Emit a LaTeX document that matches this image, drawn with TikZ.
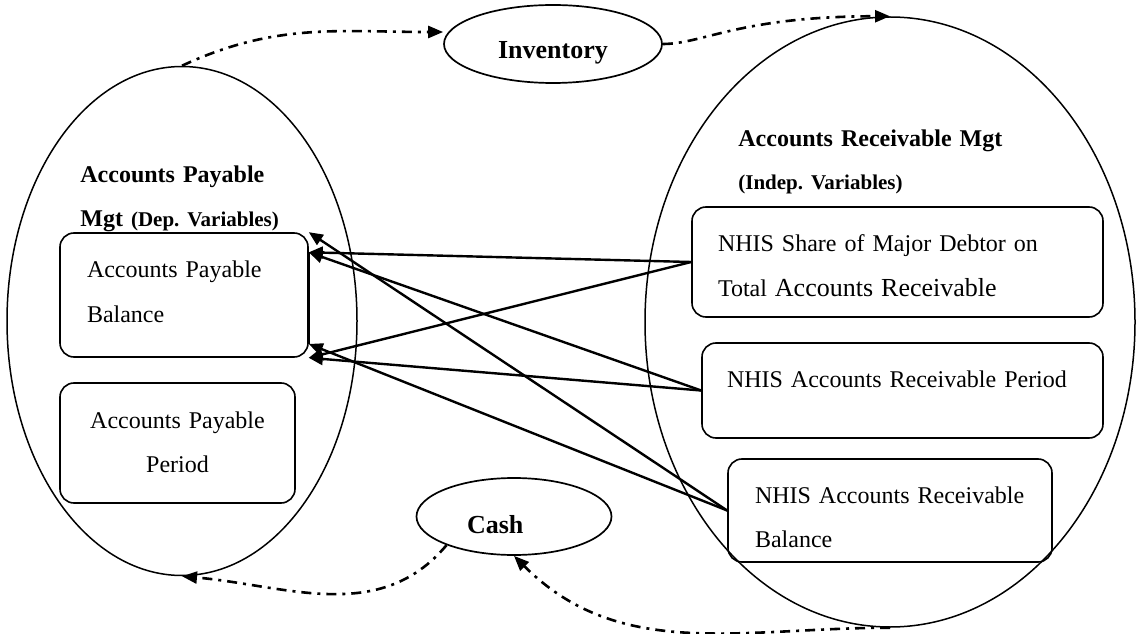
\documentclass[tikz,border=0pt]{standalone}
\usepackage{fontspec}
\setmainfont{Liberation Serif}
\usetikzlibrary{shapes.geometric, arrows.meta, calc}
\frenchspacing

\begin{document}
\begin{tikzpicture}[x=0.5pt, y=0.5pt,
    group/.style={ellipse, draw, line width=0.75pt, inner sep=0pt},
    item/.style={ellipse, draw, line width=0.85pt, inner sep=1pt, font=\fontsize{13}{15}\selectfont\bfseries},
    varbox/.style={draw, rounded corners=7pt, line width=0.8pt, inner ysep=0pt, align=left, font=\fontsize{12}{22.5}\selectfont},
    grouptitle/.style={inner sep=0pt, align=left, font=\fontsize{12}{22}\selectfont\bfseries},
    link/.style={-{Triangle[length=7pt,width=6pt]}, line width=1.2pt},
    flow/.style={-{Triangle[length=7.5pt,width=6pt]}, line width=1.3pt, dash pattern=on 5pt off 3pt on 1.5pt off 3pt},
]
\useasboundingbox (0,0) rectangle (1141,633);

% Two management groups
\node[group, minimum width=175pt, minimum height=254.5pt] (apm) at (182,312) {};
\node[group, minimum width=245pt, minimum height=305pt] (arm) at (890,311) {};

% Inventory and cash
\node[item, minimum width=109pt, minimum height=39pt, text height=16pt, text depth=1pt] (inv) at (553,589) {Inventory};
\node[item, minimum width=97.5pt, minimum height=38.5pt, text width=47pt, align=left, text height=17pt, text depth=0.5pt] (cash) at (514,116.5) {Cash};

% Group titles
\node[grouptitle, anchor=base west, text width=150pt] (apmlbl) at (80,450)
    {Accounts Payable\\Mgt {\fontsize{10.5}{22}\selectfont(Dep. Variables)}};
\node[grouptitle, anchor=base west, text width=200pt, font=\fontsize{12}{21.5}\selectfont\bfseries] (armlbl) at (738,486)
    {Accounts Receivable Mgt\\{\fontsize{10.5}{21.5}\selectfont(Indep. Variables)}};

% Dependent variables
\node[varbox, minimum width=124pt, minimum height=62pt, text width=97pt, inner xsep=13.5pt, text height=8.5pt, text depth=25.5pt] (apb) at (184,338) {Accounts Payable\\Balance};
\node[varbox, minimum width=117.5pt, minimum height=60pt, text width=105pt, align=center, font=\fontsize{12}{22}\selectfont, text height=10pt, text depth=25pt] (app) at (177.5,190) {Accounts Payable\\Period};

% Independent variables
\node[varbox, minimum width=205.5pt, minimum height=55pt, text width=179.5pt, inner xsep=13pt, text height=15.5pt, text depth=25.5pt] (share) at (897.5,371)
    {NHIS Share of Major Debtor on\\Total {\fontsize{13}{22.5}\selectfont Accounts Receivable}};
\node[varbox, minimum width=200.5pt, minimum height=47.5pt, text width=175.5pt, inner xsep=12.5pt, text height=9pt, text depth=12.5pt] (period) at (902.5,242.5) {NHIS Accounts Receivable Period};
\node[varbox, minimum width=162pt, minimum height=51.5pt, text width=135pt, inner xsep=13.5pt, text height=18pt, text depth=25.5pt] (bal) at (890,122.5) {NHIS Accounts Receivable\\Balance};

% Arrow ends on the balance box
\coordinate (apbup) at ($(apb.north east)!0.16!(apb.south east)$);
\coordinate (apbdn) at ($(apb.north east)!0.89!(apb.south east)$);

% Relations
\foreach \src in {share,period} {
    \draw[link] (\src.west) -- (apbup);
    \draw[link] (\src.west) -- (apb.south east);
}
\draw[link] (bal.west) -- (apb.north east);
\draw[link] (bal.west) -- (apbdn);
\draw[line width=1.2pt] (apbup) -- (apbdn);

% Cycle
\draw[flow] (apm.north) to[out=25,in=180] ([yshift=6pt]inv.west);
\draw[flow] (inv.east) .. controls +(40,0) and +(-150,0) .. (arm.north);
\draw[flow] (cash.203) to[out=-130,in=-5] (apm.south);
\draw[flow] (arm.south) to[out=180,in=-45] (cash.south);

\end{tikzpicture}
\end{document}
